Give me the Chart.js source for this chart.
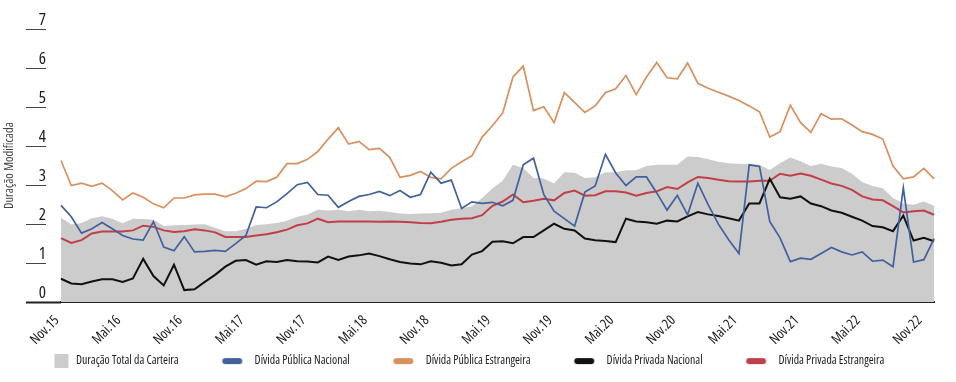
<!DOCTYPE html>
<html><head><meta charset="utf-8">
<script src="https://cdn.jsdelivr.net/npm/chart.js@4.4.1/dist/chart.umd.min.js"></script>
<style>html,body{margin:0;padding:0;background:#fff;}#wrap{width:956px;height:382px;}</style>
</head><body><div id="wrap"><canvas id="c" width="956" height="382"></canvas></div>
<script>
const categories = [
 'Nov.15','Dez.15','Jan.16','Fev.16','Mar.16','Abr.16','Mai.16','Jun.16','Jul.16','Ago.16','Set.16','Out.16',
 'Nov.16','Dez.16','Jan.17','Fev.17','Mar.17','Abr.17','Mai.17','Jun.17','Jul.17','Ago.17','Set.17','Out.17',
 'Nov.17','Dez.17','Jan.18','Fev.18','Mar.18','Abr.18','Mai.18','Jun.18','Jul.18','Ago.18','Set.18','Out.18',
 'Nov.18','Dez.18','Jan.19','Fev.19','Mar.19','Abr.19','Mai.19','Jun.19','Jul.19','Ago.19','Set.19','Out.19',
 'Nov.19','Dez.19','Jan.20','Fev.20','Mar.20','Abr.20','Mai.20','Jun.20','Jul.20','Ago.20','Set.20','Out.20',
 'Nov.20','Dez.20','Jan.21','Fev.21','Mar.21','Abr.21','Mai.21','Jun.21','Jul.21','Ago.21','Set.21','Out.21',
 'Nov.21','Dez.21','Jan.22','Fev.22','Mar.22','Abr.22','Mai.22','Jun.22','Jul.22','Ago.22','Set.22','Out.22',
 'Nov.22','Dez.22'
];
const totalDuration = [
 2.17,1.99,2.03,2.15,2.20,2.14,2.02,2.14,2.13,2.11,1.95,1.97,1.98,1.99,2.00,1.91,1.82,1.82,1.88,1.98,
 2.00,2.03,2.09,2.19,2.25,2.37,2.35,2.37,2.33,2.37,2.33,2.34,2.31,2.27,2.26,2.27,2.28,2.29,2.37,2.41,
 2.46,2.67,2.92,3.11,3.52,3.44,3.18,3.17,3.04,3.33,3.32,3.18,3.20,3.33,3.33,3.38,3.38,3.49,3.52,3.52,
 3.52,3.73,3.72,3.66,3.60,3.56,3.55,3.54,3.52,3.39,3.56,3.71,3.61,3.49,3.55,3.48,3.44,3.29,3.08,2.98,
 2.92,2.67,2.53,2.50,2.58,2.47
];
const publicNational = [
 2.48,2.19,1.77,1.88,2.04,1.88,1.71,1.62,1.59,2.06,1.41,1.32,1.68,1.29,1.30,1.33,1.30,1.50,1.71,2.44,
 2.42,2.57,2.78,3.01,3.07,2.76,2.74,2.43,2.58,2.71,2.76,2.84,2.73,2.86,2.69,2.76,3.33,3.05,3.13,2.40,
 2.57,2.53,2.56,2.47,2.61,3.52,3.69,2.76,2.33,2.14,1.95,2.82,2.98,3.79,3.31,2.99,3.21,3.21,2.80,2.36,
 2.74,2.24,3.05,2.50,2.00,1.60,1.25,3.52,3.48,2.07,1.65,1.04,1.13,1.10,1.25,1.40,1.29,1.21,1.29,1.05,
 1.08,0.91,2.93,1.03,1.09,1.63
];
const publicForeign = [
 3.63,2.99,3.05,2.97,3.05,2.86,2.62,2.80,2.69,2.52,2.42,2.67,2.67,2.75,2.77,2.77,2.70,2.79,2.91,3.10,
 3.09,3.20,3.55,3.55,3.66,3.86,4.18,4.47,4.05,4.12,3.91,3.94,3.71,3.20,3.25,3.35,3.20,3.16,3.43,3.60,
 3.75,4.23,4.52,4.85,5.77,6.05,4.91,5.01,4.60,5.37,5.12,4.86,5.03,5.37,5.47,5.81,5.32,5.77,6.14,5.75,
 5.72,6.13,5.61,5.48,5.38,5.28,5.17,5.03,4.88,4.23,4.37,5.05,4.60,4.35,4.83,4.69,4.70,4.54,4.37,4.30,
 4.18,3.49,3.16,3.21,3.43,3.16
];
const privateNational = [
 0.60,0.48,0.46,0.53,0.59,0.59,0.52,0.61,1.11,0.67,0.43,0.96,0.31,0.33,0.52,0.70,0.91,1.06,1.08,0.96,
 1.05,1.03,1.08,1.05,1.04,1.02,1.17,1.08,1.17,1.20,1.25,1.18,1.10,1.03,0.99,0.97,1.05,1.01,0.94,0.97,
 1.22,1.31,1.55,1.56,1.51,1.67,1.67,1.84,2.01,1.88,1.84,1.63,1.59,1.57,1.54,2.14,2.07,2.05,2.01,2.09,
 2.07,2.20,2.31,2.25,2.21,2.15,2.09,2.53,2.53,3.16,2.69,2.65,2.71,2.53,2.46,2.35,2.29,2.19,2.09,1.95,
 1.92,1.82,2.22,1.58,1.65,1.56
];
const privateForeign = [
 1.64,1.52,1.59,1.76,1.81,1.81,1.81,1.84,1.96,1.93,1.84,1.80,1.82,1.87,1.84,1.79,1.67,1.67,1.67,1.71,
 1.74,1.79,1.86,1.97,2.02,2.14,2.05,2.07,2.07,2.07,2.07,2.06,2.07,2.06,2.05,2.03,2.02,2.06,2.11,2.14,
 2.15,2.23,2.47,2.58,2.76,2.56,2.60,2.65,2.61,2.80,2.86,2.73,2.74,2.84,2.84,2.81,2.73,2.80,2.84,2.95,
 2.90,3.07,3.21,3.18,3.14,3.10,3.09,3.09,3.11,3.11,3.29,3.24,3.30,3.24,3.14,3.04,2.98,2.88,2.71,2.63,
 2.61,2.46,2.30,2.33,2.35,2.24
];
const seriesNames = ['Duração Total da Carteira','Dívida Pública Nacional','Dívida Pública Estrangeira','Dívida Privada Nacional','Dívida Privada Estrangeira'];
const yTicks = [0,1,2,3,4,5,6,7];

const colors = {gray:'#cccccc', blue:'#41609e', orange:'#d98f5e', black:'#111111', red:'#c03f48'};

// pick a condensed face among installed fonts
function pickFont(){
  const g = document.createElement('canvas').getContext('2d');
  const s = 'Dívida Pública Estrangeira 0123456789';
  const w = f => { g.font = f; return g.measureText(s).width; };
  const lib = w("12px 'Liberation Sans', monospace");
  if (w("12px 'Liberation Sans Narrow', monospace") < lib * 0.9) return {family: "'Liberation Sans Narrow'", weight: '', ok: true};
  const fams = ["'Open Sans'", "'Noto Sans'", "'DejaVu Sans'", "Roboto", "Inter", "Lato"];
  for (const st of ['condensed', 'semi-condensed']) {
    for (const fam of fams) {
      const n = w('12px ' + fam);
      const c = w(st + ' 12px ' + fam);
      if (c < n * 0.92) return {family: fam, weight: st, ok: true};
    }
  }
  return {family: "'Liberation Sans', sans-serif", weight: '', ok: false};
}
const PF = pickFont();
const F = (size, wt) => ({
  family: PF.family,
  size: PF.ok ? size : Math.round(size * 0.9),
  weight: ((wt ? wt + ' ' : '') + PF.weight).trim() || undefined
});

function marker(kind, color){
  const c = document.createElement('canvas');
  c.width = 62; c.height = 14;
  const g = c.getContext('2d');
  g.fillStyle = color;
  if (kind === 'box') {
    g.fillRect(46.5, 0, 14, 14);
  } else {
    g.beginPath();
    if (g.roundRect) g.roundRect(35.5, 4, 20, 6, 3); else g.rect(35.5, 4, 20, 6);
    g.fill();
  }
  return c;
}
const markers = [
  marker('box', colors.gray), marker('pill', colors.blue), marker('pill', colors.orange),
  marker('pill', colors.black), marker('pill', colors.red)
];

const ctx = document.getElementById('c').getContext('2d');
if (!PF.ok) { try { ctx.letterSpacing = '-0.6px'; } catch(e) {} }
new Chart(ctx, {
  type: 'line',
  data: {
    labels: categories,
    datasets: [
      {label: seriesNames[0], data: totalDuration, fill: 'origin', backgroundColor: colors.gray, borderWidth: 0, borderColor: colors.gray, pointRadius: 0, order: 10},
      {label: seriesNames[1], data: publicNational, borderColor: colors.blue, borderWidth: 1.7, pointRadius: 0, fill: false, order: 1},
      {label: seriesNames[2], data: publicForeign, borderColor: colors.orange, borderWidth: 1.7, pointRadius: 0, fill: false, order: 2},
      {label: seriesNames[3], data: privateNational, borderColor: colors.black, borderWidth: 2, pointRadius: 0, fill: false, order: 3},
      {label: seriesNames[4], data: privateForeign, borderColor: colors.red, borderWidth: 2, pointRadius: 0, fill: false, order: 4}
    ]
  },
  options: {
    responsive: false,
    animation: false,
    devicePixelRatio: 1,
    layout: {padding: {top: 29, right: 11, bottom: 5, left: 0}},
    scales: {
      x: {
        grid: {drawOnChartArea: false, drawTicks: false},
        border: {display: true, color: '#222', width: 2},
        ticks: {
          autoSkip: false, minRotation: 45, maxRotation: 45, padding: 10, labelOffset: -4,
          color: '#1a1a1a', font: F(14, '500'),
          callback: function(v, i){ return i % 6 === 0 ? this.getLabelForValue(v) : ''; }
        },
        afterFit: s => { s.height = 45; }
      },
      y: {
        min: 0, max: 7,
        afterBuildTicks: s => { s.ticks = yTicks.map(v => ({value: v})); },
        grid: {
          drawOnChartArea: false, drawTicks: true, tickLength: 35,
          tickColor: c => (c.tick && c.tick.value === 0) ? '#222' : '#444',
          tickWidth: c => (c.tick && c.tick.value === 0) ? 2 : 1,
          tickBorderDash: c => (c.tick && c.tick.value === 0) ? [] : [20, 200]
        },
        border: {display: false},
        ticks: {padding: -20, labelOffset: -9, color: '#1a1a1a', font: F(17, '500')},
        title: {display: true, text: 'Duração Modificada', color: '#444', font: F(12.5), padding: {top: 2, bottom: 0}},
        afterFit: s => { s.width = 61; }
      }
    },
    plugins: {
      tooltip: {enabled: false},
      legend: {
        position: 'bottom', align: 'start',
        labels: {
          usePointStyle: true, pointStyleWidth: 62, padding: 8,
          color: '#222', font: F(11.8),
          generateLabels: chart => chart.data.datasets.map((ds, i) => ({
            text: ds.label, pointStyle: markers[i], fillStyle: 'rgba(0,0,0,0)', strokeStyle: 'rgba(0,0,0,0)',
            lineWidth: 0, hidden: false, datasetIndex: i, fontColor: '#222'
          }))
        }
      }
    }
  }
});
</script>
</body></html>
